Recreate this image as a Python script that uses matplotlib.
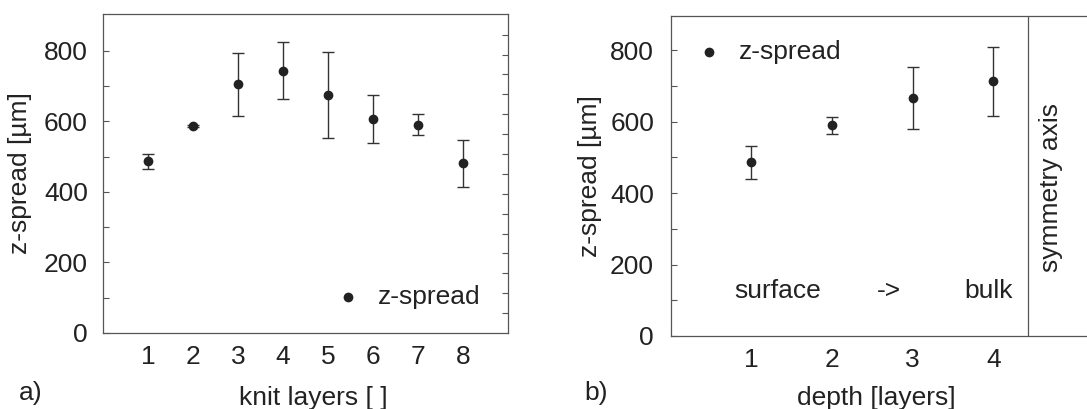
import numpy as np
import matplotlib.pyplot as plt

plt.rcParams['font.family'] = ['Liberation Sans', 'DejaVu Sans']

# panel a) spread versus knit layer
knit_layers = [1, 2, 3, 4, 5, 6, 7, 8]
spread_a = [487, 586, 705, 744, 674, 608, 591, 481]
err_a = [21, 3, 89, 80, 122, 68, 29, 66]

# panel b) spread versus depth
depth = [1, 2, 3, 4]
spread_b = [486, 590, 666, 713]
err_b = [47, 24, 88, 96]

ink = '#222222'
spine_c = '#555555'
fs = 19

fig = plt.figure(figsize=(10.87, 4.09), dpi=100)

# ---- panel a
ax1 = fig.add_axes([0.0948, 0.186, 0.3726, 0.780])
ax1.errorbar(knit_layers, spread_a, yerr=err_a, fmt='o', ms=6, color=ink,
             ecolor='#333333', elinewidth=1, capsize=4, capthick=1)
ax1.set_xlim(0, 9)
ax1.set_ylim(0, 905)
ax1.set_xticks(knit_layers)
ax1.set_yticks([0, 200, 400, 600, 800])
ax1.set_yticks(np.arange(100, 900, 200), minor=True)
ax1.tick_params(axis='y', direction='in', length=4, width=0.8, color=spine_c,
                labelsize=fs, pad=11, which='both', labelcolor=ink)
ax1.tick_params(axis='x', length=0, labelsize=fs, pad=9, colors=ink)
ax1.set_xlabel('knit layers [ ]', fontsize=fs, color=ink)
ax1.set_ylabel('z-spread [µm]', fontsize=fs, color=ink)
ax1.xaxis.set_label_coords(0.518, -0.166)
ax1.yaxis.set_label_coords(-0.175, 0.5)
for s in ax1.spines.values():
    s.set_color(spine_c)
    s.set_linewidth(0.9)

# secondary scale ticks on the right side
sec = ax1.secondary_yaxis('right', functions=(lambda y: y / 56.4, lambda v: v * 56.4))
sec.set_yticks(np.arange(1, 16))
sec.tick_params(direction='in', length=4, width=0.8, color=spine_c, labelright=False)
sec.spines['right'].set_visible(False)

ax1.plot([5.44], [101], 'o', ms=6, color=ink)
ax1.text(6.1, 101, 'z-spread', fontsize=fs, color=ink, va='center')
fig.text(0.017, 0.04, 'a)', fontsize=fs, color=ink, va='center')

# ---- panel b
ax2 = fig.add_axes([0.617, 0.1785, 0.383, 0.782])
ax2.errorbar(depth, spread_b, yerr=err_b, fmt='o', ms=6, color=ink,
             ecolor='#333333', elinewidth=1, capsize=4, capthick=1)
ax2.set_xlim(0, 5.16)
ax2.set_ylim(0, 895)
ax2.set_xticks(depth)
ax2.set_yticks([0, 200, 400, 600, 800])
ax2.set_yticks(np.arange(100, 900, 200), minor=True)
ax2.tick_params(axis='y', direction='in', length=4, width=0.8, color=spine_c,
                labelsize=fs, pad=12, which='both', labelcolor=ink)
ax2.tick_params(axis='x', length=0, labelsize=fs, pad=9, colors=ink)
ax2.set_xlabel('depth [layers]', fontsize=fs, color=ink)
ax2.set_ylabel('z-spread [µm]', fontsize=fs, color=ink)
ax2.xaxis.set_label_coords(0.495, -0.156)
ax2.yaxis.set_label_coords(-0.166, 0.5)
ax2.spines['right'].set_visible(False)
for s in ['left', 'top', 'bottom']:
    ax2.spines[s].set_color(spine_c)
    ax2.spines[s].set_linewidth(0.9)

ax2.axvline(4.43, color=spine_c, lw=0.9)
ax2.text(4.72, 415, 'symmetry axis', rotation=90, fontsize=fs, color=ink,
         ha='center', va='center')

ax2.plot([0.47], [795], 'o', ms=6, color=ink)
ax2.text(0.84, 795, 'z-spread', fontsize=fs, color=ink, va='center')
ax2.text(0.79, 127, 'surface', fontsize=fs, color=ink, va='center')
ax2.text(2.55, 127, '->', fontsize=fs, color=ink, va='center')
ax2.text(3.64, 127, 'bulk', fontsize=fs, color=ink, va='center')
fig.text(0.538, 0.04, 'b)', fontsize=fs, color=ink, va='center')

fig.savefig('out.png', dpi=100)
